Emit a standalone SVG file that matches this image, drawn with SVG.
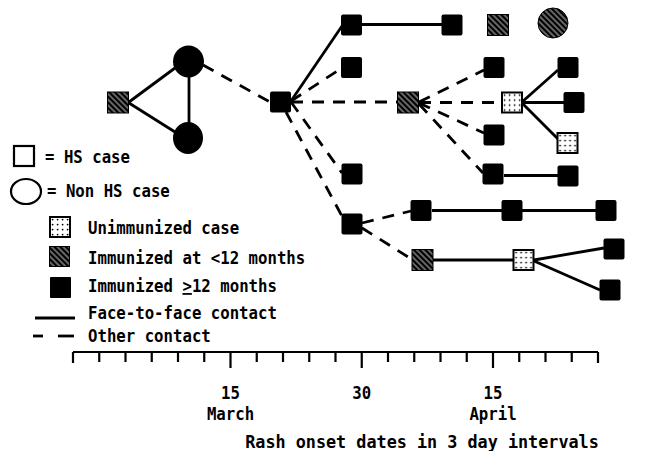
<svg xmlns="http://www.w3.org/2000/svg" width="664" height="451" viewBox="0 0 664 451">
<defs>
<pattern id="hatch" patternUnits="userSpaceOnUse" width="4" height="4" patternTransform="rotate(-45)">
<rect width="4" height="4" fill="#000"/>
<line x1="2" y1="0" x2="2" y2="4" stroke="#fff" stroke-width="0.8"/>
</pattern>
<pattern id="dots" patternUnits="objectBoundingBox" width="0.25" height="0.25">
<circle cx="2.6" cy="2.6" r="0.9" fill="#000"/>
</pattern>
<style>
.b{fill:#000}
.h{fill:url(#hatch);stroke:#000;stroke-width:1}
.d{fill:#fff;stroke:#000;stroke-width:2}
.dp{fill:url(#dots)}
.s{stroke:#000;stroke-width:2.8;fill:none}
.ds{stroke-dasharray:12 9}
.ax{stroke:#000;stroke-width:2.2;fill:none}
text{font-family:"DejaVu Sans Mono","Liberation Mono",monospace;font-weight:bold;font-size:15.7px;fill:#000}
.t{font-size:16.8px}
</style>
</defs>
<rect width="664" height="451" fill="#fff"/>
<g id="connectors">
<line class="s" x1="129" y1="102" x2="175" y2="68"/>
<line class="s" x1="129" y1="103" x2="175" y2="132"/>
<line class="s" x1="189" y1="76" x2="189" y2="124"/>
<line class="s ds" x1="203" y1="65" x2="270" y2="102"/>
<line class="s" x1="291" y1="101" x2="342" y2="26"/>
<line class="s ds" x1="291" y1="101" x2="342" y2="68"/>
<line class="s ds" x1="291" y1="102" x2="398" y2="102"/>
<line class="s ds" x1="291" y1="102" x2="342" y2="173"/>
<line class="s ds" x1="286" y1="112" x2="343" y2="218"/>
<line class="s" x1="362" y1="24.5" x2="442" y2="24.5"/>
<line class="s ds" x1="419" y1="102" x2="484" y2="70"/>
<line class="s ds" x1="419" y1="102.5" x2="502" y2="102.5"/>
<line class="s ds" x1="419" y1="103" x2="484" y2="133"/>
<line class="s ds" x1="419" y1="104" x2="483" y2="173"/>
<line class="s" x1="522" y1="102" x2="558" y2="70"/>
<line class="s" x1="522" y1="102.5" x2="564" y2="102.5"/>
<line class="s" x1="522" y1="103" x2="558" y2="139"/>
<line class="s" x1="504" y1="175.5" x2="558" y2="175.5"/>
<line class="s ds" x1="362" y1="223" x2="411" y2="211"/>
<line class="s ds" x1="362" y1="228" x2="413" y2="260"/>
<line class="s" x1="432" y1="210.5" x2="596" y2="210.5"/>
<line class="s" x1="433" y1="260" x2="513" y2="260"/>
<line class="s" x1="534" y1="260" x2="604" y2="248"/>
<line class="s" x1="534" y1="261" x2="600" y2="290"/>
</g>
<g id="n_hatch_left"><rect class="h" x="107.5" y="92" width="21" height="21"/></g>
<g id="c_top"><ellipse class="b" cx="188.5" cy="61.5" rx="15.5" ry="16"/></g>
<g id="c_bottom"><ellipse class="b" cx="188" cy="138" rx="15" ry="16"/></g>
<g id="n_main"><rect class="b" x="270" y="91.5" width="21" height="21" rx="2"/></g>
<g id="a1"><rect class="b" x="341" y="14.5" width="21" height="21" rx="2"/></g>
<g id="a2"><rect class="b" x="441.5" y="14.5" width="21" height="21" rx="2"/></g>
<g id="a3"><rect class="h" x="487.5" y="14.5" width="21" height="21"/></g>
<g id="a4"><circle class="h" cx="553" cy="23" r="15"/></g>
<g id="b1"><rect class="b" x="341" y="57" width="21" height="21" rx="2"/></g>
<g id="b2"><rect class="b" x="483.5" y="57" width="21" height="21" rx="2"/></g>
<g id="b3"><rect class="b" x="557.5" y="57" width="21" height="21" rx="2"/></g>
<g id="m1"><rect class="h" x="397.5" y="92" width="21" height="21"/></g>
<g id="m2"><rect class="d" x="502" y="92.5" width="20" height="20"/><rect class="dp" x="502" y="92.5" width="20" height="20"/></g>
<g id="m3"><rect class="b" x="563.5" y="92" width="21" height="21" rx="2"/></g>
<g id="r4a"><rect class="b" x="483.5" y="124.5" width="21" height="21" rx="2"/></g>
<g id="r4b"><rect class="d" x="557.5" y="133" width="20" height="20"/><rect class="dp" x="557.5" y="133" width="20" height="20"/></g>
<g id="r5a"><rect class="b" x="341.5" y="163.5" width="21" height="21" rx="2"/></g>
<g id="r5b"><rect class="b" x="482.5" y="163.5" width="21" height="21" rx="2"/></g>
<g id="r5c"><rect class="b" x="557.5" y="165.5" width="21" height="21" rx="2"/></g>
<g id="r6a"><rect class="b" x="341.5" y="213.5" width="21" height="21" rx="2"/></g>
<g id="r6b"><rect class="b" x="410.5" y="200" width="21" height="21" rx="2"/></g>
<g id="r6c"><rect class="b" x="501.5" y="200" width="21" height="21" rx="2"/></g>
<g id="r6d"><rect class="b" x="595.5" y="200" width="21" height="21" rx="2"/></g>
<g id="r7a"><rect class="h" x="412" y="249.5" width="21" height="21"/></g>
<g id="r7b"><rect class="d" x="513.5" y="250" width="20" height="20"/><rect class="dp" x="513.5" y="250" width="20" height="20"/></g>
<g id="r7c"><rect class="b" x="603.5" y="238.5" width="21" height="21" rx="2"/></g>
<g id="r7d"><rect class="b" x="599.5" y="279.5" width="21" height="21" rx="2"/></g>
<g id="legend">
<rect x="14" y="146" width="20" height="20" fill="none" stroke="#000" stroke-width="2.2"/>
<text transform="translate(45,163) scale(1,1.12)">= HS case</text>
<ellipse cx="26" cy="191.5" rx="15" ry="12.5" fill="none" stroke="#000" stroke-width="2.2"/>
<text transform="translate(47,197) scale(1,1.12)">= Non HS case</text>
<rect class="d" x="50" y="217" width="20" height="20"/><rect class="dp" x="50" y="217" width="20" height="20"/>
<text transform="translate(88,234) scale(1,1.12)">Unimmunized case</text>
<rect class="h" x="49.5" y="246.5" width="20" height="20"/>
<text transform="translate(88,264) scale(1,1.12)">Immunized at &lt;12 months</text>
<rect class="b" x="50" y="277" width="21" height="21" rx="1"/>
<text transform="translate(88,292) scale(1,1.12)">Immunized <tspan text-decoration="underline">&gt;</tspan>12 months</text>
<line class="s" x1="35" y1="318" x2="75" y2="318"/>
<text transform="translate(88,319) scale(1,1.12)">Face-to-face contact</text>
<line class="s" x1="33" y1="336" x2="43" y2="336"/>
<line class="s" x1="58" y1="336" x2="74" y2="336"/>
<text transform="translate(88,342) scale(1,1.12)">Other contact</text>
</g>
<g id="axis">
<line class="ax" x1="73" y1="352" x2="598" y2="352"/>
<path class="ax" d="M73 352V363M99.25 352V362M125.5 352V362M151.75 352V362M178 352V362M204.25 352V362M230.5 352V368M256.75 352V362M283 352V362M309.25 352V362M335.5 352V362M361.75 352V368M388 352V362M414.25 352V362M440.5 352V362M466.75 352V362M493 352V368M519.25 352V362M545.5 352V362M571.75 352V362M598 352V363"/>
<text text-anchor="middle" transform="translate(230.5,398.5) scale(1,1.12)">15</text>
<text text-anchor="middle" transform="translate(230.5,419.5) scale(1,1.12)">March</text>
<text text-anchor="middle" transform="translate(361.75,398.5) scale(1,1.12)">30</text>
<text text-anchor="middle" transform="translate(493,398.5) scale(1,1.12)">15</text>
<text text-anchor="middle" transform="translate(493,419.5) scale(1,1.12)">April</text>
<text class="t" text-anchor="middle" transform="translate(422,447.5) scale(1,1.1)">Rash onset dates in 3 day intervals</text>
</g>
</svg>
